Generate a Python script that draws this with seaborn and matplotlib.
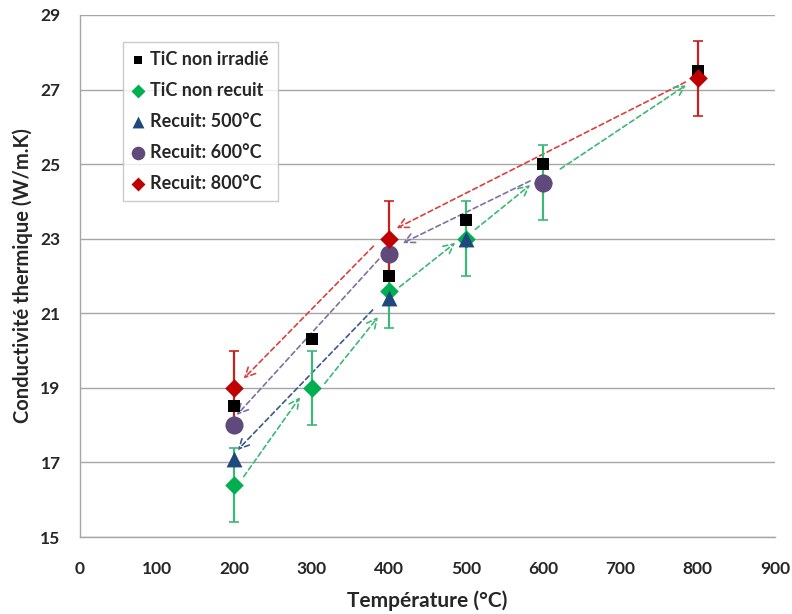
import matplotlib
matplotlib.use("Agg")
import matplotlib.pyplot as plt
import seaborn as sns
import pandas as pd

# ---- data ----
temps_irr = [200, 300, 400, 500, 600, 800]
k_irr = [18.5, 20.3, 22.0, 23.5, 25.0, 27.5]

temps_nr = [200, 300, 400, 500, 600]
k_nr = [16.4, 19.0, 21.6, 23.0, 24.5]
err_nr = [1.0, 1.0, 1.0, 1.0, 1.0]

temps_500 = [200, 400, 500]
k_500 = [17.1, 21.4, 23.0]

temps_600 = [200, 400, 600]
k_600 = [18.0, 22.6, 24.5]

temps_800 = [200, 400, 800]
k_800 = [19.0, 23.0, 27.3]
err_800 = [1.0, 1.0, 1.0]

labels = ["TiC non irradié", "TiC non recuit", "Recuit: 500°C", "Recuit: 600°C", "Recuit: 800°C"]

# annotation arrows (start T, start k, end T, end k)
arrows_red = [(784, 27.2, 410, 23.28), (380, 22.8, 212, 19.25)]
arrows_purple = [(583, 24.55, 418, 22.88), (387, 22.45, 203, 18.27)]
arrows_blue = [(379, 21.09, 204, 17.33)]
arrows_green = [(212, 16.62, 285, 18.75), (317, 19.12, 386, 20.9),
                (414, 21.71, 486, 22.89), (512, 23.25, 583, 24.44),
                (622, 24.87, 785, 27.12)]

sns.set_theme(style="white")
plt.rcParams['font.family'] = ['Lato', 'DejaVu Sans']
plt.rcParams['font.weight'] = 'bold'

fig = plt.figure(figsize=(7.92, 6.14), dpi=100)
ax = fig.add_axes([0.101, 0.1254, 0.8775, 0.8502])

GREEN = "#00B050"
GREEN_BAR = "#3CB878"
BLUE = "#1F497D"
PURPLE = "#604A7B"
RED = "#C00000"

# grid
ax.set_axisbelow(True)
ax.yaxis.grid(True, color="#A6A6A6", linewidth=1.0)
ax.xaxis.grid(False)

# arrows
def draw_arrows(lst, color):
    for (x0, y0, x1, y1) in lst:
        ax.annotate("", xy=(x1, y1), xytext=(x0, y0),
                    arrowprops=dict(arrowstyle="->,head_length=0.6,head_width=0.3",
                                    color=color, lw=1.2, linestyle=(0, (3, 2)),
                                    shrinkA=0, shrinkB=0), zorder=2)

draw_arrows(arrows_red, "#D94040")
draw_arrows(arrows_purple, "#8070A0")
draw_arrows(arrows_blue, "#3A5A8C")
draw_arrows(arrows_green, "#3CB878")

# error bars
ax.errorbar(temps_nr, k_nr, yerr=err_nr, fmt="none", ecolor=GREEN_BAR,
            elinewidth=1.6, capsize=3.5, capthick=1.2, zorder=3)
ax.errorbar(temps_800, k_800, yerr=err_800, fmt="none", ecolor="#C82020",
            elinewidth=1.6, capsize=3.5, capthick=1.2, zorder=3)

# markers via seaborn
df_nr = pd.DataFrame({"T": temps_nr, "k": k_nr})
df_500 = pd.DataFrame({"T": temps_500, "k": k_500})
df_600 = pd.DataFrame({"T": temps_600, "k": k_600})
df_irr = pd.DataFrame({"T": temps_irr, "k": k_irr})
df_800 = pd.DataFrame({"T": temps_800, "k": k_800})

sns.scatterplot(data=df_nr, x="T", y="k", marker="D", s=90, color=GREEN,
                edgecolor=GREEN, linewidth=0, ax=ax, zorder=4, label=labels[1])
sns.scatterplot(data=df_500, x="T", y="k", marker="^", s=130, color=BLUE,
                edgecolor=BLUE, linewidth=0, ax=ax, zorder=5, label=labels[2])
sns.scatterplot(data=df_600, x="T", y="k", marker="o", s=170, color=PURPLE,
                edgecolor=PURPLE, linewidth=0, ax=ax, zorder=5, label=labels[3])
sns.scatterplot(data=df_irr, x="T", y="k", marker="s", s=70, color="black",
                edgecolor="black", linewidth=0, ax=ax, zorder=6, label=labels[0])
sns.scatterplot(data=df_800, x="T", y="k", marker="D", s=90, color=RED,
                edgecolor=RED, linewidth=0, ax=ax, zorder=7, label=labels[4])

# axes
ax.set_xlim(0, 900)
ax.set_ylim(15, 29)
ax.set_xticks(range(0, 901, 100))
ax.set_yticks(range(15, 30, 2))
for sp in ["top", "right"]:
    ax.spines[sp].set_visible(False)
for sp in ["left", "bottom"]:
    ax.spines[sp].set_color("#A6A6A6")
    ax.spines[sp].set_linewidth(1.0)
ax.tick_params(axis="both", which="major", direction="out", length=6,
               width=1.0, color="#A6A6A6", labelsize=12.5)
ax.tick_params(axis="x", pad=11)
ax.tick_params(axis="y", pad=8)
for lab in ax.get_xticklabels() + ax.get_yticklabels():
    lab.set_fontweight("bold")
ax.set_xlabel("Température (°C)", fontsize=15, fontweight="bold", labelpad=10)
ax.set_ylabel("Conductivité thermique (W/m.K)", fontsize=14.5, fontweight="bold", labelpad=5)

# legend in original order
handles, labs = ax.get_legend_handles_labels()
order = [labs.index(l) for l in labels]
leg = ax.legend([handles[i] for i in order], [labs[i] for i in order],
                loc="upper left", bbox_to_anchor=(0.0619, 0.949),
                borderaxespad=0.0,
                frameon=True, fancybox=False, edgecolor="#BFBFBF",
                prop={"weight": "bold", "size": 13}, labelspacing=0.78,
                handletextpad=0.3, borderpad=0.5, handlelength=0.7,
                markerscale=0.75)
leg.get_frame().set_linewidth(1.0)

fig.savefig("out.png", dpi=100)
